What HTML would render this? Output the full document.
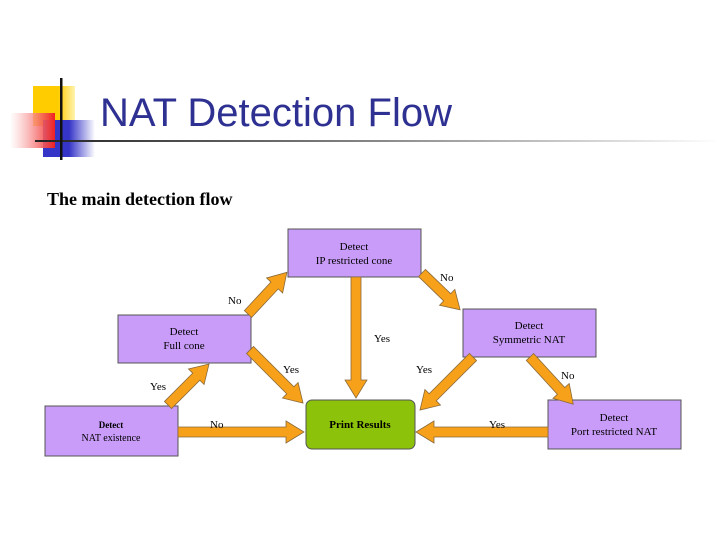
<!DOCTYPE html>
<html><head><meta charset="utf-8"><style>
html,body{margin:0;padding:0;background:#fff;width:720px;height:540px;overflow:hidden}
</style></head><body>
<svg width="720" height="540" xmlns="http://www.w3.org/2000/svg">
<defs>
<linearGradient id="ln" x1="0" x2="1"><stop offset="0" stop-color="#222"/><stop offset="0.5" stop-color="#888"/><stop offset="1" stop-color="#fff"/></linearGradient>
<linearGradient id="rd" x1="1" x2="0"><stop offset="0" stop-color="#f02020"/><stop offset="1" stop-color="#fff" stop-opacity="0.6"/></linearGradient>
<linearGradient id="bl" x1="0" x2="1"><stop offset="0.5" stop-color="#3535c8"/><stop offset="1" stop-color="#fff"/></linearGradient>
<linearGradient id="yl" x1="0" x2="1"><stop offset="0.6" stop-color="#ffcc00"/><stop offset="1" stop-color="#fff3b0"/></linearGradient>
</defs>
<rect x="33" y="86" width="42" height="40" fill="url(#yl)"/>
<rect x="43" y="120" width="52" height="37" fill="url(#bl)"/>
<rect x="10" y="113" width="45" height="35" fill="url(#rd)"/>
<rect x="35" y="140" width="685" height="2" fill="url(#ln)"/>
<rect x="60" y="78" width="2.5" height="82" fill="#111"/>
<text x="100" y="126" font-family="Liberation Sans, sans-serif" font-size="40" fill="#2e3192">NAT Detection Flow</text>
<text x="47" y="205" font-family="Liberation Serif, serif" font-weight="bold" font-size="18" fill="#000">The main detection flow</text>

<g fill="#c89cf8" stroke="#555" stroke-width="1">
<rect x="288" y="229" width="133" height="48"/>
<rect x="118" y="315" width="133" height="48"/>
<rect x="463" y="309" width="133" height="48"/>
<rect x="45" y="406" width="133" height="50"/>
<rect x="548" y="400" width="133" height="49"/>
</g>
<rect x="306" y="400" width="109" height="49" rx="6" fill="#8cc20a" stroke="#555"/>

<g fill="#f7a11a" stroke="#8a6a3a" stroke-width="0.8">
<path transform="translate(168,405) rotate(-45)" d="M0,-5H40V-11L58,0L40,11V5H0Z"/>
<path transform="translate(248,314) rotate(-47)" d="M0,-5H39V-11L57,0L39,11V5H0Z"/>
<path transform="translate(422,273) rotate(44)" d="M0,-5H35V-11L53,0L35,11V5H0Z"/>
<path transform="translate(356,277) rotate(90)" d="M0,-5H103V-11L121,0L103,11V5H0Z"/>
<path transform="translate(250,350) rotate(45)" d="M0,-5H57V-11L75,0L57,11V5H0Z"/>
<path transform="translate(473,357) rotate(135)" d="M0,-5H57V-11L75,0L57,11V5H0Z"/>
<path transform="translate(530,357) rotate(47.5)" d="M0,-5H46V-11L64,0L46,11V5H0Z"/>
<path transform="translate(178,432)" d="M0,-5H108V-11L126,0L108,11V5H0Z"/>
<path transform="translate(548,432) rotate(180)" d="M0,-5H114V-11L132,0L114,11V5H0Z"/>
</g>

<g font-family="Liberation Serif, serif" font-size="11" fill="#000" text-anchor="middle">
<text x="354" y="250">Detect</text><text x="354" y="264">IP restricted cone</text>
<text x="184" y="335">Detect</text><text x="184" y="349">Full cone</text>
<text x="529" y="329">Detect</text><text x="529" y="343">Symmetric NAT</text>
<text x="111" y="428" font-size="9" font-weight="bold">Detect</text><text x="111" y="441" font-size="10">NAT existence</text>
<text x="614" y="421">Detect</text><text x="614" y="435">Port restricted NAT</text>
<text x="360" y="428" font-weight="bold">Print Results</text>
</g>
<g font-family="Liberation Serif, serif" font-size="11" fill="#000">
<text x="228" y="304">No</text>
<text x="374" y="342">Yes</text>
<text x="440" y="281">No</text>
<text x="150" y="390">Yes</text>
<text x="283" y="373">Yes</text>
<text x="416" y="373">Yes</text>
<text x="561" y="379">No</text>
<text x="210" y="428">No</text>
<text x="489" y="428">Yes</text>
</g>
</svg>
</body></html>
